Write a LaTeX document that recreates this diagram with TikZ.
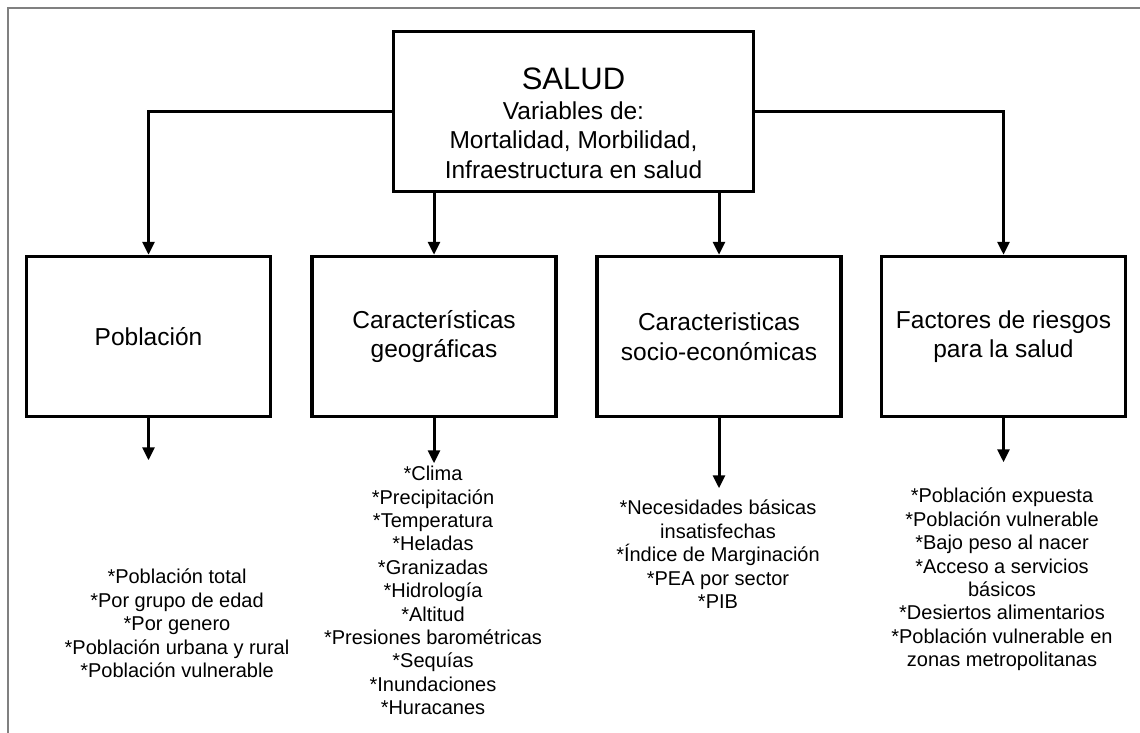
\documentclass[tikz,border=0pt]{standalone}
\usepackage{fontspec}
\setmainfont{Liberation Sans}
\usetikzlibrary{arrows.meta}

\begin{document}
\begin{tikzpicture}[x=1pt,y=-1pt,
  caja/.style={draw=black,line width=3.5pt,minimum width=244pt,minimum height=160pt,align=center,font=\fontsize{24.5}{29.5}\selectfont},
  flecha/.style={line width=3pt,-{Triangle[length=13pt,width=12pt]}},
  lista/.style={align=center,anchor=north,inner sep=0pt,font=\fontsize{20}{23.4}\selectfont}]
\useasboundingbox (0,0) rectangle (1140,733);
\draw[black!50,line width=1.5pt] (8,733) -- (8,8) -- (1140,8);

% caja principal
\node[caja,minimum width=360pt] (salud) at (573.5,111.5) {{\fontsize{31}{34}\selectfont\rule{0pt}{45pt}SALUD}\\Variables de:\\Mortalidad, Morbilidad,\\Infraestructura en salud};

% las cuatro cajas
\foreach \nombre/\cx/\texto in {pob/148.5/Población,geo/434/Características\\geográficas,soc/719/Caracteristicas\\socio-económicas,fac/1003.5/Factores de riesgos\\para la salud}{%
	\node[caja] (\nombre) at (\cx,336.5) {\texto};
}

\draw[flecha] (salud.west) -| (pob.north);
\draw[flecha] (salud.east) -| (fac.north);
\draw[flecha] (salud.south -| geo.north) -- (geo.north);
\draw[flecha] (salud.south -| soc.north) -- (soc.north);

% flechas hacia las listas
\foreach \nombre/\largo in {pob/42,geo/45,soc/70,fac/44}{%
	\path (\nombre.south) ++(0,\largo) coordinate (fin\nombre);
	\draw[flecha] (\nombre.south) -- (fin\nombre);
}

\node[lista] (lpob) at (177,569) {*Población total\\*Por grupo de edad\\*Por genero\\*Población urbana y rural\\*Población vulnerable};
\node[lista] (lgeo) at (433,466) {*Clima\\*Precipitación\\*Temperatura\\*Heladas\\*Granizadas\\*Hidrología\\*Altitud\\*Presiones barométricas\\*Sequías\\*Inundaciones\\*Huracanes};
\node[lista] (lsoc) at (718,500) {*Necesidades básicas\\insatisfechas\\*Índice de Marginación\\*PEA por sector\\*PIB};
\node[lista] (lfac) at (1002,488) {*Población expuesta\\*Población vulnerable\\*Bajo peso al nacer\\*Acceso a servicios\\básicos\\*Desiertos alimentarios\\*Población vulnerable en\\zonas metropolitanas};
\end{tikzpicture}
\end{document}
